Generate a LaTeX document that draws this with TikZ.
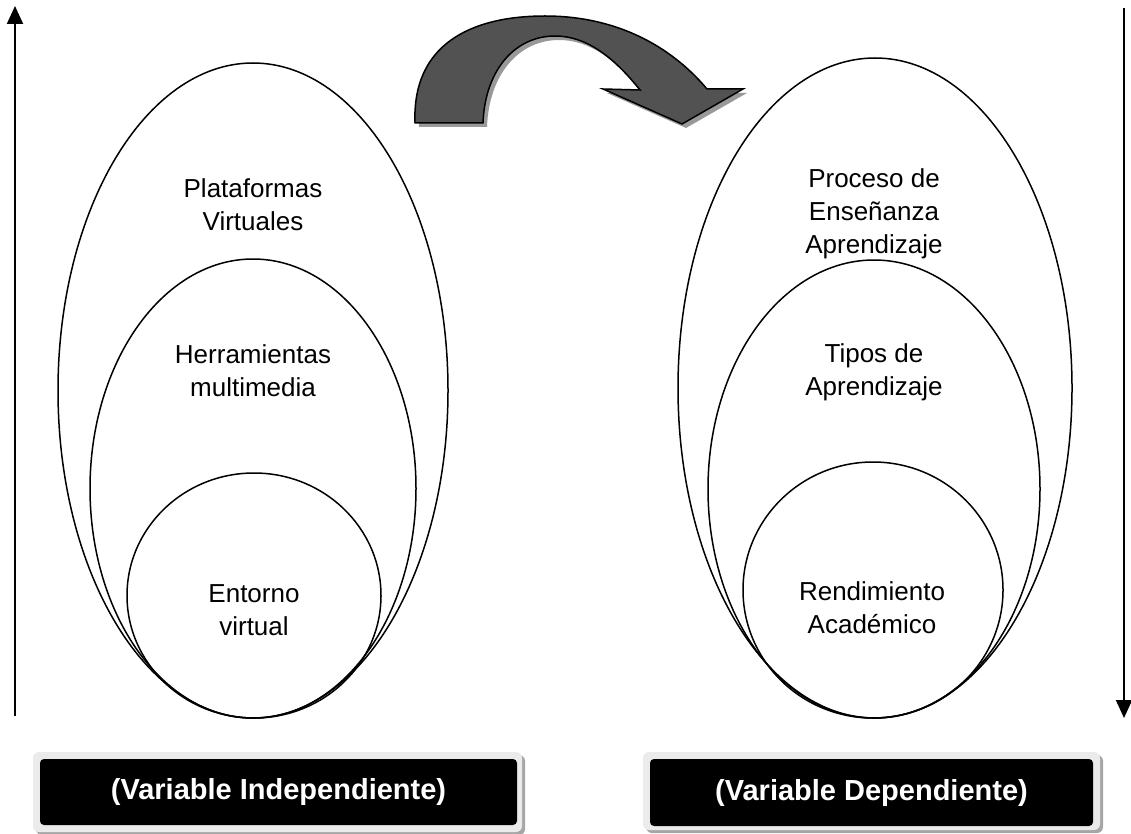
\documentclass[tikz,border=0pt]{standalone}
\usepackage{fontspec}
\setmainfont{Liberation Sans}
\usetikzlibrary{arrows.meta,shapes.geometric,shadows}
\begin{document}
\begin{tikzpicture}[x=1pt,y=-1pt,
  ring/.style={draw=black,line width=1.5pt,ellipse,inner sep=0pt},
  lbl/.style={align=center,font=\fontsize{26}{33}\selectfont,inner sep=0pt},
  vert/.style={line width=2pt,-{Triangle[width=16pt,length=18pt]}},
  framebox/.style={rounded corners=6pt,fill=black!8,draw=none,inner sep=0pt,
    drop shadow={shadow xshift=3pt,shadow yshift=-3pt,fill=black!35,opacity=1}},
  vbox/.style={rounded corners=4pt,fill=black,text=white,
    font=\bfseries\fontsize{29}{33}\selectfont,inner sep=0pt}
]
\useasboundingbox (0,0) rectangle (1131,834);

% vertical arrows
\coordinate (la1) at (15,716);
\coordinate (la2) at (15,6);
\coordinate (ra1) at (1124,8);
\coordinate (ra2) at (1124,718);
\draw[vert] (la1) -- (la2);
\draw[vert] (ra1) -- (ra2);

% left ellipses
\node[ring,minimum width=390pt,minimum height=655pt] (lo) at (253,390.5) {};
\node[ring,minimum width=326pt,minimum height=459pt] (lm) at (253,488.5) {};
\node[ring,minimum width=254pt,minimum height=245pt] (li) at (254,595.5) {};

% right ellipses
\node[ring,minimum width=394pt,minimum height=660pt] (ro) at (875,388) {};
\node[ring,minimum width=332pt,minimum height=458pt] (rm) at (874,489) {};
\node[ring,minimum width=260pt,minimum height=256pt] (ri) at (873,590) {};

% labels
\node[lbl] (t1) at (253,205) {Plataformas\\Virtuales};
\node[lbl] (t2) at (253,371) {Herramientas\\multimedia};
\node[lbl] (t3) at (254,610) {Entorno\\virtual};
\node[lbl] (t4) at (874,214) {Proceso de\\Enseñanza\\Aprendizaje};
\node[lbl] (t5) at (874,372) {Tipos de\\Aprendizaje};
\node[lbl] (t6) at (872,608) {Rendimiento\\Académico};

% curved arrow (shadow then body)
\def\curvedarrow{(415,123) .. controls (412,45) and (470,16) .. (545,16)
   .. controls (615,16) and (670,45) .. (707,89)
   -- (743,89) -- (682,124) -- (603,89) -- (640,90)
   .. controls (612,55) and (585,36) .. (555,36)
   .. controls (515,36) and (485,70) .. (483,123) -- cycle}
\begin{scope}[xshift=4pt,yshift=-4pt]
  \fill[black!40] \curvedarrow;
\end{scope}
\filldraw[fill=black!68,draw=black,line width=1.5pt,line join=miter] \curvedarrow;

% bottom boxes
\node[framebox,minimum width=489pt,minimum height=80pt] (f1) at (277.5,792) {};
\node[vbox,minimum width=477pt,minimum height=66pt] (b1) at (278.5,792) {(Variable Independiente)};
\node[framebox,minimum width=457pt,minimum height=78pt] (f2) at (871.5,791) {};
\node[vbox,minimum width=443pt,minimum height=67pt] (b2) at (871.5,792.5) {(Variable Dependiente)};
\end{tikzpicture}
\end{document}
